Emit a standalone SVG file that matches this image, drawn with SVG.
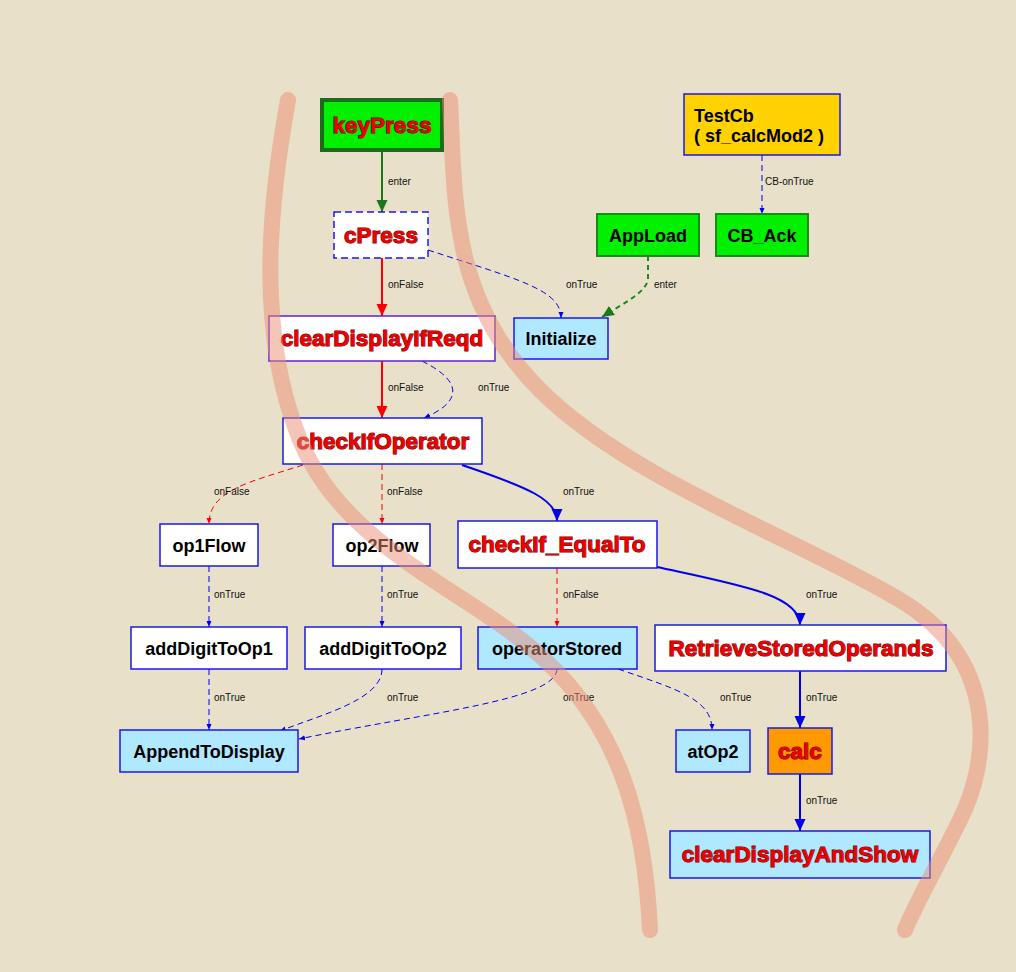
<svg xmlns="http://www.w3.org/2000/svg" width="1016" height="972" viewBox="0 0 1016 972">
<style>
.box{stroke:#1a1ae6;stroke-width:1.5}
.w{fill:#ffffff}
.lb{fill:#b0e8ff}
.g{fill:#00f000;stroke:#1a8a1a;stroke-width:2}
.t{font-family:"Liberation Sans",Arial,sans-serif;font-weight:bold;text-anchor:middle}
.blk{font-size:18px;fill:#000}
.red{font-size:22.5px;fill:#ee0000;stroke:#6a0000;stroke-width:1.1;paint-order:stroke}
.lab{font-family:"Liberation Sans",Arial,sans-serif;font-size:10px;fill:#111}
.e{fill:none}
.bs{stroke:#0000ee;stroke-width:2}
.bd{stroke:#0000ee;stroke-width:1;stroke-dasharray:6,4}
.rs{stroke:#ff0000;stroke-width:2}
.rd{stroke:#ff0000;stroke-width:1;stroke-dasharray:6,4}
.gs{stroke:#1a7a1a;stroke-width:2}
.gd{stroke:#1a8a1a;stroke-width:2;stroke-dasharray:5,4}
.curve{fill:none;stroke:#ec8c74;stroke-opacity:0.5;stroke-width:16;stroke-linecap:round}
</style>
<defs>
<marker id="aG" markerUnits="userSpaceOnUse" markerWidth="12" markerHeight="12" viewBox="0 0 12 12" refX="12" refY="6" orient="auto"><path d="M0,0.5 L12,6 L0,11.5 Z" fill="#1a7a1a"/></marker>
<marker id="aR" markerUnits="userSpaceOnUse" markerWidth="12" markerHeight="12" viewBox="0 0 12 12" refX="12" refY="6" orient="auto"><path d="M0,0.5 L12,6 L0,11.5 Z" fill="#ff0000"/></marker>
<marker id="aB" markerUnits="userSpaceOnUse" markerWidth="12" markerHeight="12" viewBox="0 0 12 12" refX="12" refY="6" orient="auto"><path d="M0,0.5 L12,6 L0,11.5 Z" fill="#0000ee"/></marker>
<marker id="sB" markerUnits="userSpaceOnUse" markerWidth="6" markerHeight="6" viewBox="0 0 6 6" refX="6" refY="3" orient="auto"><path d="M0,0.5 L6,3 L0,5.5 Z" fill="#0000ee"/></marker>
<marker id="sR" markerUnits="userSpaceOnUse" markerWidth="6" markerHeight="6" viewBox="0 0 6 6" refX="6" refY="3" orient="auto"><path d="M0,0.5 L6,3 L0,5.5 Z" fill="#ff0000"/></marker>
</defs>
<rect x="0" y="0" width="1016" height="972" fill="#e8e0c8"/>

<g id="connectors">
<path class="e gs" d="M382,150 L382,212" marker-end="url(#aG)"/>
<text class="lab" x="388" y="185">enter</text>
<path class="e rs" d="M382,258 L382,316" marker-end="url(#aR)"/>
<text class="lab" x="388" y="288">onFalse</text>
<path class="e bd" d="M428,250 C 520,280 561,290 561,318" marker-end="url(#sB)"/>
<text class="lab" x="566" y="288">onTrue</text>
<path class="e gd" d="M648,256 L648,278 C 648,292 622,304 602,317" marker-end="url(#aG)"/>
<text class="lab" x="654" y="288">enter</text>
<path class="e bd" d="M762,155 L762,214" marker-end="url(#sB)"/>
<text class="lab" x="765" y="185">CB-onTrue</text>
<path class="e rs" d="M382,361 L382,418" marker-end="url(#aR)"/>
<text class="lab" x="388" y="391">onFalse</text>
<path class="e bd" d="M422,361 C 470,385 455,405 424,418" marker-end="url(#sB)"/>
<text class="lab" x="478" y="391">onTrue</text>
<path class="e rd" d="M303,465 C 250,482 209,490 209,524" marker-end="url(#sR)"/>
<text class="lab" x="214" y="495">onFalse</text>
<path class="e rd" d="M382,464 L382,524" marker-end="url(#sR)"/>
<text class="lab" x="387" y="495">onFalse</text>
<path class="e bs" d="M462,465 C 530,488 557,500 557,521" marker-end="url(#aB)"/>
<text class="lab" x="563" y="495">onTrue</text>
<path class="e bd" d="M209,566 L209,627" marker-end="url(#sB)"/>
<text class="lab" x="214" y="598">onTrue</text>
<path class="e bd" d="M382,566 L382,627" marker-end="url(#sB)"/>
<text class="lab" x="387" y="598">onTrue</text>
<path class="e rd" d="M557,568 L557,627" marker-end="url(#sR)"/>
<text class="lab" x="563" y="598">onFalse</text>
<path class="e bs" d="M657,567 C 740,585 800,595 800,625" marker-end="url(#aB)"/>
<text class="lab" x="806" y="598">onTrue</text>
<path class="e bd" d="M209,669 L209,730" marker-end="url(#sB)"/>
<text class="lab" x="214" y="701">onTrue</text>
<path class="e bd" d="M382,669 C 382,700 320,715 280,731" marker-end="url(#sB)"/>
<text class="lab" x="387" y="701">onTrue</text>
<path class="e bd" d="M557,669 C 556,700 430,712 299,739" marker-end="url(#sB)"/>
<text class="lab" x="563" y="701">onTrue</text>
<path class="e bd" d="M618,669 C 680,690 712,700 712,730" marker-end="url(#sB)"/>
<text class="lab" x="720" y="701">onTrue</text>
<path class="e bs" d="M800,671 L800,728" marker-end="url(#aB)"/>
<text class="lab" x="806" y="701">onTrue</text>
<path class="e bs" d="M800,774 L800,831" marker-end="url(#aB)"/>
<text class="lab" x="806" y="804">onTrue</text>
</g>

<g id="keyPress"><rect x="322" y="100" width="120" height="50" fill="#00f000" stroke="#1a6e1a" stroke-width="4"/><text class="t red" x="382" y="133">keyPress</text></g>
<g id="cPress"><rect x="334" y="212" width="94" height="46" class="w" stroke="#1a1ae6" stroke-width="1.5" stroke-dasharray="7,4"/><text class="t red" x="381" y="243">cPress</text></g>
<g id="clearDisplayIfReqd"><rect x="269" y="316" width="226" height="45" class="w" stroke="#6020d0" stroke-width="1.5"/><text class="t red" x="382" y="346">clearDisplayIfReqd</text></g>
<g id="Initialize"><rect x="514" y="318" width="94" height="41" class="lb box"/><text class="t blk" x="561" y="345">Initialize</text></g>
<g id="AppLoad"><rect x="597" y="214" width="102" height="42" class="g"/><text class="t blk" x="648" y="242">AppLoad</text></g>
<g id="CB_Ack"><rect x="716" y="214" width="92" height="42" class="g"/><text class="t blk" x="762" y="242">CB_Ack</text></g>
<g id="TestCb"><rect x="684" y="94" width="156" height="61" fill="#ffd200" class="box"/><text class="blk" style="font-family:'Liberation Sans',Arial,sans-serif;font-weight:bold" x="694" y="122">TestCb</text><text class="blk" style="font-family:'Liberation Sans',Arial,sans-serif;font-weight:bold" x="694" y="142">( sf_calcMod2 )</text></g>
<g id="checkIfOperator"><rect x="283" y="418" width="199" height="46" class="w box"/><text class="t red" x="383" y="449">checkIfOperator</text></g>
<g id="op1Flow"><rect x="160" y="524" width="98" height="42" class="w box"/><text class="t blk" x="209" y="552">op1Flow</text></g>
<g id="op2Flow"><rect x="333" y="524" width="97" height="42" class="w box"/><text class="t blk" x="382" y="552">op2Flow</text></g>
<g id="checkIf_EqualTo"><rect x="458" y="521" width="199" height="47" class="w box"/><text class="t red" x="557" y="552">checkIf_EqualTo</text></g>
<g id="addDigitToOp1"><rect x="131" y="627" width="156" height="42" class="w box"/><text class="t blk" x="209" y="655">addDigitToOp1</text></g>
<g id="addDigitToOp2"><rect x="305" y="627" width="156" height="42" class="w box"/><text class="t blk" x="383" y="655">addDigitToOp2</text></g>
<g id="operatorStored"><rect x="478" y="627" width="159" height="42" class="lb box"/><text class="t blk" x="557" y="655">operatorStored</text></g>
<g id="RetrieveStoredOperands"><rect x="655" y="625" width="291" height="46" class="w box"/><text class="t red" x="801" y="656">RetrieveStoredOperands</text></g>
<g id="AppendToDisplay"><rect x="120" y="730" width="178" height="42" class="lb box"/><text class="t blk" x="209" y="758">AppendToDisplay</text></g>
<g id="atOp2"><rect x="676" y="730" width="74" height="42" class="lb box"/><text class="t blk" x="713" y="758">atOp2</text></g>
<g id="calc"><rect x="768" y="728" width="64" height="46" fill="#ff9900" class="box"/><text class="t red" x="800" y="759">calc</text></g>
<g id="clearDisplayAndShow"><rect x="670" y="831" width="260" height="47" class="lb box"/><text class="t red" x="800" y="862">clearDisplayAndShow</text></g>

<g id="curves">
<path class="curve" d="M288,100 C 270,200 255,330 300,440 S 470,590 545,660 S 645,820 650,930"/>
<path class="curve" d="M450,100 C 455,200 450,300 540,390 S 800,540 900,600 S 990,760 960,820 S 915,905 905,930"/>
</g>
</svg>
